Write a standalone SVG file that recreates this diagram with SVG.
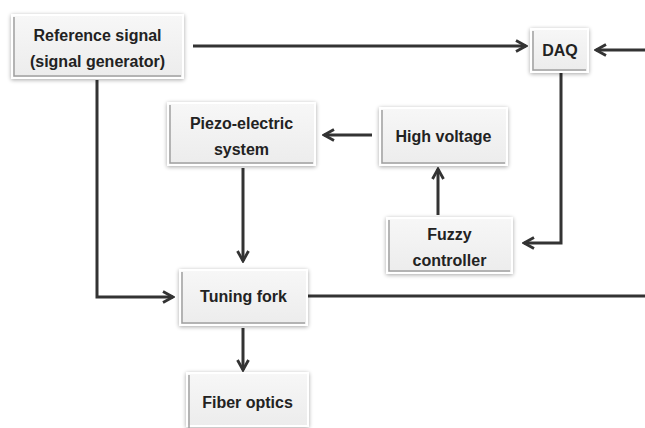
<svg xmlns="http://www.w3.org/2000/svg" width="645" height="428" viewBox="0 0 645 428">
<defs>
<filter id="sh" x="-10%" y="-10%" width="120%" height="130%">
<feGaussianBlur in="SourceAlpha" stdDeviation="2"/>
<feOffset dx="0" dy="1" result="b"/>
<feComponentTransfer><feFuncA type="linear" slope="0.35"/></feComponentTransfer>
<feMerge><feMergeNode/><feMergeNode in="SourceGraphic"/></feMerge>
</filter>
<linearGradient id="g" x1="0" y1="0" x2="0" y2="1">
<stop offset="0" stop-color="#f7f7f7"/><stop offset="1" stop-color="#ececec"/>
</linearGradient>
<marker id="ah" viewBox="0 0 14 14" refX="12" refY="7" markerWidth="14" markerHeight="14" markerUnits="userSpaceOnUse" orient="auto">
<path d="M2,1.5 L12,7 L2,12.5" fill="none" stroke="#333" stroke-width="2.8" stroke-linejoin="miter"/>
</marker>
</defs>
<style>
.box{fill:url(#g);stroke:#ffffff;stroke-width:2;filter:url(#sh)}
.bev{fill:none;stroke:#a0a0a0;stroke-width:1.5}
.t{font-family:"Liberation Sans",Arial,sans-serif;font-weight:bold;font-size:16px;fill:#222;text-anchor:middle}
.c{fill:none;stroke:#333;stroke-width:3}
</style>
<rect width="645" height="428" fill="#ffffff"/>
<g id="connectors">
<line class="c" x1="193" y1="46" x2="526" y2="46" marker-end="url(#ah)"/>
<line class="c" x1="645" y1="50" x2="596" y2="50" marker-end="url(#ah)"/>
<polyline class="c" points="561,73 561,243 524,243" marker-end="url(#ah)"/>
<line class="c" x1="438" y1="215" x2="438" y2="169" marker-end="url(#ah)"/>
<line class="c" x1="372" y1="135" x2="324" y2="135" marker-end="url(#ah)"/>
<line class="c" x1="243" y1="168" x2="243" y2="261" marker-end="url(#ah)"/>
<polyline class="c" points="97,80 97,297 173,297" marker-end="url(#ah)"/>
<line class="c" x1="307" y1="296" x2="645" y2="296"/>
<line class="c" x1="243" y1="328" x2="243" y2="370" marker-end="url(#ah)"/>
</g>
<g id="ref">
<rect class="box" x="12" y="15" width="171" height="63"/>
<polyline class="bev" points="14,17 14,76 181,76"/>
<text class="t" x="97.5" y="41">Reference signal</text>
<text class="t" x="97.5" y="67">(signal generator)</text>
</g>
<g id="daq">
<rect class="box" x="531" y="29" width="57" height="43"/>
<polyline class="bev" points="533,31 533,70 586,70"/>
<text class="t" x="560" y="56">DAQ</text>
</g>
<g id="piezo">
<rect class="box" x="168" y="103" width="147" height="62"/>
<polyline class="bev" points="170,105 170,163 313,163"/>
<text class="t" x="241.5" y="129">Piezo-electric</text>
<text class="t" x="241.5" y="155">system</text>
</g>
<g id="hv">
<rect class="box" x="380" y="108" width="127" height="57"/>
<polyline class="bev" points="382,110 382,163 505,163"/>
<text class="t" x="443.5" y="142">High voltage</text>
</g>
<g id="fuzzy">
<rect class="box" x="387" y="218" width="125" height="55"/>
<polyline class="bev" points="389,220 389,271 510,271"/>
<text class="t" x="449.5" y="240">Fuzzy</text>
<text class="t" x="449.5" y="266">controller</text>
</g>
<g id="tuning">
<rect class="box" x="180" y="270" width="127" height="55"/>
<polyline class="bev" points="182,272 182,323 305,323"/>
<text class="t" x="243.5" y="302">Tuning fork</text>
</g>
<g id="fiber">
<rect class="box" x="187" y="373" width="121" height="53"/>
<polyline class="bev" points="189,375 189,428"/>
<text class="t" x="247.5" y="408">Fiber optics</text>
</g>
</svg>
